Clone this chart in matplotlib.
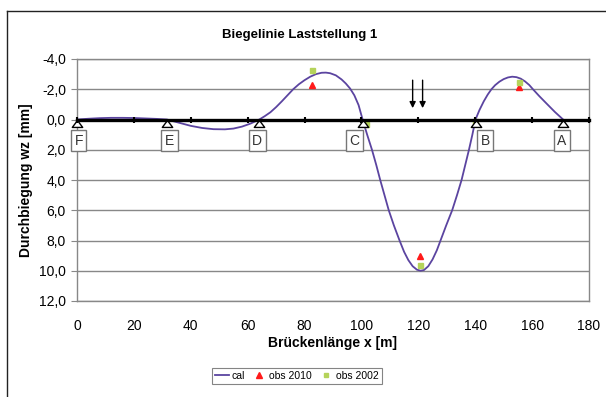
import matplotlib
matplotlib.use("Agg")
import matplotlib.pyplot as plt
from matplotlib.lines import Line2D
import numpy as np

# ---------------- data ----------------
cal_x = [0, 4, 8, 12, 16, 20, 24, 28, 31.6,
         34, 36, 40, 44, 48, 52, 55, 58, 61, 64.1,
         66, 68, 70, 72, 74, 76, 78, 80, 82, 84, 86, 87.5, 89, 91, 93, 94.5, 96,
         97.5, 99, 100.4,
         102, 103.7, 105.2, 106.6, 108.1, 109.6, 111.4, 113.4, 115, 116.5, 118,
         119.5, 120.8, 122, 123.5, 125, 126.5, 127.8, 129.8, 131.9, 133.6, 135.2,
         136.5, 137.8, 139, 140.1,
         141.5, 143, 144.4, 145.7, 147, 148.5, 150, 151.5, 153, 154.5, 156, 157.5,
         159, 160.3, 162.5, 165, 168, 170.9]
cal_y = [0, -0.05, -0.09, -0.11, -0.11, -0.1, -0.07, -0.04, 0,
         0.12, 0.22, 0.42, 0.56, 0.64, 0.65, 0.6, 0.47, 0.27, 0,
         -0.22, -0.48, -0.82, -1.2, -1.6, -2.0, -2.33, -2.6, -2.83, -3.0, -3.09,
         -3.1, -3.06, -2.92, -2.65, -2.38, -2.05, -1.6, -0.95, 0,
         1.0, 2.0, 3.0, 4.0, 5.0, 6.0, 7.0, 8.0, 8.75, 9.3, 9.7,
         9.93, 10.0, 9.95, 9.7, 9.25, 8.65, 8.0, 7.0, 6.0, 5.0, 4.0,
         3.0, 2.0, 1.0, 0,
         -0.63, -1.2, -1.65, -2.0, -2.27, -2.5, -2.67, -2.78, -2.83, -2.8, -2.7,
         -2.52, -2.28, -2.0, -1.55, -1.07, -0.5, 0]

obs2010_x = [82.5, 101, 120.5, 155.5]
obs2010_y = [-2.3, 0.2, 9.0, -2.15]
obs2002_x = [82.5, 101.5, 120.5, 140, 155.5]
obs2002_y = [-3.3, 0.3, 9.6, 0.1, -2.5]

support_x = [0, 31.6, 64.1, 100.4, 140.1, 170.9]
support_names = ["F", "E", "D", "C", "B", "A"]
load_x = [118, 121.5]

x_ticks = [0, 20, 40, 60, 80, 100, 120, 140, 160, 180]
y_ticks = [-4, -2, 0, 2, 4, 6, 8, 10, 12]
y_ticklabels = ["-4,0", "-2,0", "0,0", "2,0", "4,0", "6,0", "8,0", "10,0", "12,0"]

title = "Biegelinie Laststellung 1"
xlabel = "Brückenlänge x [m]"
ylabel = "Durchbiegung wz [mm]"

# ---------------- style ----------------
plt.rcParams['font.family'] = ['Liberation Sans', 'DejaVu Sans']
W, H = 606, 397
fig = plt.figure(figsize=(W / 100, H / 100), dpi=100)
fig.patch.set_facecolor("white")

# outer chart border (left + top visible)
fig.add_artist(Line2D([7 / W, 7 / W], [0, 1 - 11 / H], transform=fig.transFigure,
                      color="#222222", lw=1.0))
fig.add_artist(Line2D([7 / W, 1], [1 - 11 / H, 1 - 11 / H], transform=fig.transFigure,
                      color="#222222", lw=1.0))

left, right, top, bottom = 77, 589, 59, 301
ax = fig.add_axes([left / W, 1 - bottom / H, (right - left) / W, (bottom - top) / H])
ax.set_xlim(0, 180)
ax.set_ylim(12, -4)

grid_c = "#888888"
for s in ax.spines.values():
    s.set_color(grid_c)
    s.set_linewidth(1.0)

ax.set_yticks(y_ticks)
ax.set_yticklabels(y_ticklabels)
ax.yaxis.grid(True, color=grid_c, lw=1.0)
ax.tick_params(axis='y', length=4, color=grid_c, pad=4, labelsize=10)
ax.set_xticks(x_ticks)
ax.tick_params(axis='x', length=0, pad=13, labelsize=10)
ax.set_axisbelow(True)

# zero line as the category axis, with tick marks
ax2 = ax.twiny()
ax2.set_xlim(0, 180)
ax2.set_xticks(x_ticks)
ax2.xaxis.set_ticks_position('bottom')
ax2.spines['bottom'].set_position(('data', 0))
ax2.spines['bottom'].set_color('black')
ax2.spines['bottom'].set_linewidth(2.4)
for k in ['top', 'left', 'right']:
    ax2.spines[k].set_visible(False)
ax2.tick_params(axis='x', direction='inout', length=5, width=1.5, color='black',
                labelbottom=False, labeltop=False)

# curve
ax.plot(cal_x, cal_y, color="#5b44a0", lw=1.3, zorder=4, label="cal")
ax.plot(obs2010_x, obs2010_y, ls='none', marker='^', ms=5, color="#ff1a1a",
        mec="#ff1a1a", zorder=5, label="obs 2010")
ax.plot(obs2002_x, obs2002_y, ls='none', marker='s', ms=3.6, color="#b5d35a",
        mec="#b5d35a", zorder=5, label="obs 2002")

# supports (apex on the zero line)
tri = [(0, 0), (-0.75, -1), (0.75, -1), (0, 0)]
ax.plot(support_x, [0] * len(support_x), ls='none', marker=tri, ms=10,
        mfc='white', mec='black', mew=1.0, zorder=6, clip_on=False)
label_dx = [0.6, 0.9, -0.8, -2.9, 3.4, -0.5]
for sx, nm, dx in zip(support_x, support_names, label_dx):
    ax.text(sx + dx, 1.4, nm, ha='center', va='center', fontsize=10, color="#333333",
            zorder=7,
            bbox=dict(boxstyle='square,pad=0.25', fc='white', ec='#777777', lw=1.0))

# load arrows
for lx in load_x:
    ax.annotate("", xy=(lx, -0.75), xytext=(lx, -2.6),
                arrowprops=dict(arrowstyle='-|>', color='black', lw=1.0,
                                mutation_scale=9, shrinkA=0, shrinkB=0), zorder=6)

fig.text(0.495, 1 - 35 / H, title, ha='center', va='center', fontsize=9.5,
         fontweight='bold')
ax.set_xlabel(xlabel, fontsize=10, fontweight='bold', labelpad=2)
ax.set_ylabel(ylabel, fontsize=10, fontweight='bold', labelpad=4)

h, l = ax.get_legend_handles_labels()
leg = fig.legend(h, l, loc='center', bbox_to_anchor=(297 / W, 1 - 376 / H), ncol=3,
                 fontsize=7.5, frameon=True, fancybox=False, edgecolor='#666666',
                 handlelength=1.3, handletextpad=0.3, columnspacing=0.7,
                 borderpad=0.3, markerscale=0.9)
leg.get_frame().set_linewidth(0.8)

fig.savefig("out.png", dpi=100)
